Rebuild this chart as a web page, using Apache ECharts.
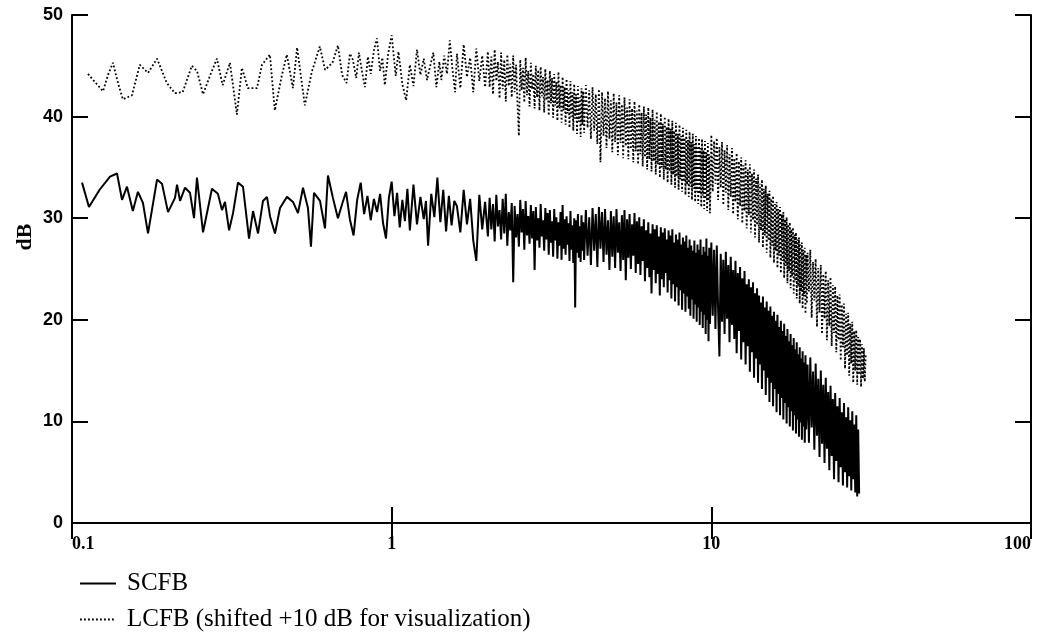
<!DOCTYPE html>
<html>
<head>
<meta charset="utf-8">
<script src="https://cdn.jsdelivr.net/npm/echarts@6/dist/echarts.min.js"></script>
<style>html,body{margin:0;padding:0;background:#fff;}#chart{width:1040px;height:640px;}</style>
</head>
<body>
<div id="chart"></div>
<script>
// ---- data ----
const seriesNames = ['SCFB', 'LCFB (shifted +10 dB for visualization)'];
const yTicks = [0, 10, 20, 30, 40, 50];
const xTicks = [0.1, 1, 10, 100];

// low-frequency part of SCFB (individual wiggles)
const scfbLowFreq = [0.1075,0.113,0.122,0.1315,0.1383,0.1434,0.1486,0.155,0.1608,0.1667,0.1729,0.1845,0.1912,0.1997,0.21,0.2131,0.2178,0.2257,0.234,0.2408,0.246,0.257,0.274,0.286,0.2946,0.301,0.31,0.319,0.3305,0.3427,0.3579,0.3684,0.3819,0.3958,0.4074,0.4163,0.4315,0.4474,0.4704,0.4913,0.5093,0.528,0.5472,0.5592,0.5715,0.5968,0.6186,0.632,0.655,0.679,
0.70,0.72,0.74,0.76,0.78,0.80,0.82,0.84,0.86,0.88,0.90,0.92,0.94,0.96,0.98,1.00,1.02,1.04,1.06,1.08,1.10,1.12,1.14,1.17,1.20,1.23,1.26,1.28,1.30,1.33,1.36,1.39,1.42,1.45,1.48,1.51,1.54,1.57];
const scfbLowDb = [33.5,31.1,32.8,34.1,34.4,31.8,33.1,30.7,32.6,31.5,28.5,33.8,33.4,30.6,32.0,33.3,31.7,33.0,32.5,30.0,34.0,28.6,32.9,32.4,30.8,31.6,28.8,30.5,33.5,33.1,28.0,30.7,28.5,31.7,32.1,30.2,28.5,31.0,32.1,31.6,30.5,33.0,31.0,27.2,32.5,31.7,29.0,34.2,32.0,30.0,
31.4,32.6,29.9,28.3,31.8,33.5,30.4,32.2,29.8,31.9,30.6,32.4,29.5,28.0,32.0,33.6,30.2,32.5,29.1,31.8,29.7,32.9,28.8,33.3,29.4,32.1,29.9,31.7,27.3,32.4,30.1,34.0,29.6,32.8,28.7,32.2,29.3,31.7];

// low-frequency part of LCFB
const lcfbLowFreq = [0.1122,0.125,0.1296,0.1343,0.1393,0.1443,0.154,0.163,0.1729,0.1845,0.198,0.21,0.222,0.237,0.246,0.257,0.27,0.284,0.296,0.312,0.328,0.34,0.355,0.379,0.393,0.416,0.431,0.453,0.47,0.491,0.506,0.535,0.5625,0.596,0.619,0.653,
0.679,0.70,0.723,0.74,0.756,0.775,0.79,0.808,0.825,0.843,0.86,0.88,0.899,0.92,0.935,0.952,0.975,1.0,1.03,1.05,1.08,1.11,1.14,1.17,1.20,1.23,1.26,1.29,1.32,1.35,1.38,1.41,1.43,1.46,1.49,1.52,1.55,1.58];
const lcfbLowDb = [44.2,42.5,44.1,45.3,43.3,41.7,42.1,45.1,44.3,45.7,43.3,42.3,42.4,45.0,44.5,42.2,44.0,45.7,43.1,45.3,40.2,44.8,42.8,42.8,45.1,46.1,40.6,44.0,46.1,42.8,46.8,41.1,44.4,46.9,44.6,45.3,
47.0,44.1,43.3,46.2,45.6,43.8,46.3,44.4,42.9,45.9,44.2,46.5,47.7,44.5,45.8,43.1,46.2,48.0,44.0,46.4,43.2,41.6,45.1,43.0,46.6,44.1,45.7,43.6,45.0,46.3,42.9,45.4,43.6,46.0,44.2,47.5,44.6,42.4];

// dense part (shared frequency samples)
const hiFreq = [
1.60,1.64,1.68,1.72,1.76,1.80,1.84,1.88,1.92,1.96,
2.000,2.025,2.050,2.075,2.100,2.125,2.150,2.175,2.200,2.225,2.250,2.275,2.300,2.325,2.350,2.375,2.400,2.425,2.450,2.475,
2.500,2.525,2.550,2.575,2.600,2.625,2.650,2.675,2.700,2.725,2.750,2.775,2.800,2.825,2.850,2.875,2.900,2.925,2.950,2.975,
3.000,3.025,3.050,3.075,3.100,3.125,3.150,3.175,3.200,3.225,3.250,3.275,3.300,3.325,3.350,3.375,3.400,3.425,3.450,3.475,
3.500,3.525,3.550,3.575,3.600,3.625,3.650,3.675,3.700,3.725,3.750,3.775,3.800,3.825,3.850,3.875,3.900,3.925,3.950,3.975,
4.00,4.05,4.10,4.15,4.20,4.25,4.30,4.35,4.40,4.45,4.50,4.55,4.60,4.65,4.70,4.75,4.80,4.85,4.90,4.95,
5.00,5.05,5.10,5.15,5.20,5.25,5.30,5.35,5.40,5.45,5.50,5.55,5.60,5.65,5.70,5.75,5.80,5.85,5.90,5.95,
6.00,6.05,6.10,6.15,6.20,6.25,6.30,6.35,6.40,6.45,6.50,6.55,6.60,6.65,6.70,6.75,6.80,6.85,6.90,6.95,
7.00,7.05,7.10,7.15,7.20,7.25,7.30,7.35,7.40,7.45,7.50,7.55,7.60,7.65,7.70,7.75,7.80,7.85,7.90,7.95,
8.00,8.05,8.10,8.15,8.20,8.25,8.30,8.35,8.40,8.45,8.50,8.55,8.60,8.65,8.70,8.75,8.80,8.85,8.90,8.95,
9.00,9.05,9.10,9.15,9.20,9.25,9.30,9.35,9.40,9.45,9.50,9.55,9.60,9.65,9.70,9.75,9.80,9.85,9.90,9.95,
10.0,10.1,10.2,10.3,10.4,10.5,10.6,10.7,10.8,10.9,11.0,11.1,11.2,11.3,11.4,11.5,11.6,11.7,11.8,11.9,
12.0,12.1,12.2,12.3,12.4,12.5,12.6,12.7,12.8,12.9,13.0,13.1,13.2,13.3,13.4,13.5,13.6,13.7,13.8,13.9,
14.0,14.1,14.2,14.3,14.4,14.5,14.6,14.7,14.8,14.9,15.0,15.1,15.2,15.3,15.4,15.5,15.6,15.7,15.8,15.9,
16.0,16.1,16.2,16.3,16.4,16.5,16.6,16.7,16.8,16.9,17.0,17.1,17.2,17.3,17.4,17.5,17.6,17.7,17.8,17.9,
18.0,18.1,18.2,18.3,18.4,18.5,18.6,18.7,18.8,18.9,19.0,19.1,19.2,19.3,19.4,19.5,19.6,19.7,19.8,19.9,
20.0,20.2,20.4,20.6,20.8,21.0,21.2,21.4,21.6,21.8,
22.0,22.2,22.4,22.6,22.8,23.0,23.2,23.4,23.6,23.8,24.0,24.2,24.4,24.6,24.8,25.0,25.2,25.4,25.6,25.8,
26.0,26.2,26.4,26.6,26.8,27.0,27.2,27.4,27.6,27.8,28.0,28.2,28.4,28.6,28.8,29.0,29.2,29.4,29.6,29.8,
30.0,30.2,30.4];

const scfbHiDb = [
31.2,28.6,32.8,29.4,31.9,27.8,25.8,32.3,28.9,31.6,
28.2,32.0,28.9,31.4,27.7,32.3,29.2,30.8,27.9,31.9,28.5,32.4,27.3,30.6,28.8,31.5,23.7,31.2,28.1,30.4,
27.2,31.8,28.6,30.9,26.9,31.7,28.3,30.2,27.5,31.3,28.0,30.7,24.9,31.1,27.8,30.0,27.1,31.4,28.2,29.8,
26.8,31.0,27.9,30.5,26.4,30.8,27.6,29.7,26.2,30.9,27.8,30.1,26.0,29.6,27.3,30.6,25.9,31.3,27.0,29.9,
26.4,30.2,27.4,29.5,25.8,30.7,26.9,29.3,25.6,30.0,21.2,29.8,26.6,30.4,26.1,29.2,25.7,30.3,26.8,29.6,
25.9,30.8,26.3,30.1,25.4,31.0,26.8,30.4,25.2,31.1,27.0,30.6,25.7,30.9,26.4,29.8,24.9,30.7,26.2,30.2,
25.1,30.9,26.6,29.6,24.8,30.3,25.9,30.8,23.9,29.9,26.1,30.4,25.0,29.4,26.3,30.5,24.6,29.7,25.5,30.1,
24.4,29.2,25.8,29.9,23.8,28.8,25.1,29.6,24.2,28.5,22.6,29.4,24.9,28.9,23.6,29.3,24.5,28.2,22.4,29.1,
24.0,28.6,23.2,29.0,24.6,27.9,22.7,28.8,23.9,28.3,22.1,28.9,23.5,27.6,21.8,28.4,23.2,27.9,21.4,28.6,
22.9,27.4,21.0,28.1,22.6,27.7,20.8,28.3,22.3,27.1,21.1,27.9,20.4,27.3,22.0,26.8,20.1,27.8,21.5,26.6,
19.8,27.4,21.2,26.9,19.5,27.9,20.8,26.4,19.2,27.2,20.5,26.7,18.6,28.0,20.0,26.3,17.9,27.1,19.6,22.5,
27.6,20.4,26.9,19.1,27.3,21.0,16.4,26.5,19.8,25.9,18.6,26.7,20.1,25.4,17.8,26.2,19.5,24.9,18.1,25.8,
16.7,24.6,18.9,25.2,16.1,24.1,17.8,24.8,15.6,23.5,17.4,24.0,14.9,23.2,16.8,23.7,14.3,22.6,16.2,23.1,
13.8,22.4,15.6,21.7,13.2,22.3,15.0,21.2,12.6,21.8,14.3,20.9,11.9,21.3,13.8,20.4,11.5,20.8,13.2,19.9,
10.9,20.5,12.7,19.3,10.6,19.9,12.3,18.9,10.2,19.6,11.8,18.4,9.8,19.1,11.4,17.9,9.5,18.6,11.0,17.5,
9.1,18.2,10.6,17.1,8.8,17.8,10.2,16.6,8.5,17.3,9.9,16.2,8.2,16.9,9.5,15.8,7.9,16.5,9.2,11.5,
15.6,7.9,16.3,9.4,14.9,7.2,15.7,8.6,14.2,6.5,
15.0,7.8,13.6,5.9,14.3,7.3,12.9,5.2,13.5,6.6,12.2,4.3,12.8,6.1,11.5,4.0,12.3,5.5,10.9,3.7,
11.8,5.0,10.4,3.5,11.4,4.6,10.1,3.2,11.0,4.3,9.7,3.0,10.6,2.6,9.2,2.9];

const lcfbHiDb = [
46.2,42.8,47.1,43.9,45.8,42.4,46.7,43.5,46.0,42.9,
46.4,42.9,45.9,42.2,46.6,43.5,45.4,41.8,46.3,42.7,45.6,41.5,46.1,43.0,45.2,41.9,46.0,42.4,45.1,41.3,
38.1,45.6,42.6,44.8,41.4,45.8,42.1,44.5,41.0,45.3,42.7,44.2,40.8,45.0,41.9,44.6,40.6,44.9,42.0,43.9,
40.4,44.7,41.6,43.6,40.1,44.5,41.3,43.8,39.9,44.2,41.1,43.4,39.6,44.4,40.8,43.1,39.4,43.9,40.6,42.9,
39.2,43.7,40.3,42.6,38.9,43.5,40.0,42.4,38.6,43.2,39.8,42.2,38.3,43.0,39.5,41.9,38.0,42.8,39.2,42.5,
38.4,43.1,38.9,42.6,37.8,42.9,38.6,42.2,37.3,42.7,35.5,42.4,38.1,41.8,36.9,42.5,37.8,41.6,36.5,42.3,
37.5,41.4,36.2,42.1,37.4,41.2,35.9,41.9,37.1,40.9,35.8,41.7,36.8,40.8,35.5,41.5,36.6,40.6,35.3,41.2,
36.3,40.4,35.1,41.0,36.0,40.2,34.8,40.9,35.8,39.9,34.6,40.7,35.6,39.7,34.3,40.5,35.3,39.5,34.0,40.3,
35.0,39.3,33.8,40.0,34.8,39.0,33.5,39.8,34.6,38.8,33.3,39.6,34.3,38.6,33.0,39.4,34.1,38.3,32.8,39.2,
33.8,38.1,32.6,38.9,33.6,37.9,32.3,38.7,33.3,37.7,32.1,38.5,33.1,37.5,31.8,38.3,32.9,37.3,31.6,38.1,
32.6,37.1,31.4,37.9,32.4,36.9,31.1,37.8,32.2,36.7,30.9,37.6,31.9,36.5,30.7,37.4,31.7,36.3,30.5,33.5,
38.2,32.6,37.6,33.4,37.9,31.8,37.0,33.0,37.5,31.3,36.7,32.5,37.2,30.8,36.3,32.1,36.9,30.4,35.9,31.6,
36.4,29.9,35.6,31.2,36.0,29.5,35.2,30.7,35.7,29.0,34.8,30.3,35.3,28.6,34.4,29.8,34.8,28.1,33.9,29.3,
34.3,27.6,33.4,28.8,33.8,27.1,32.9,28.3,33.2,26.6,32.4,27.8,32.7,26.1,31.9,27.3,32.2,25.6,31.4,26.8,
31.6,25.1,30.9,26.3,31.1,24.6,30.4,25.8,30.6,24.1,29.9,25.3,30.1,23.6,29.4,24.8,29.6,23.1,28.9,24.3,
29.1,22.6,28.4,23.8,28.6,22.1,27.9,23.3,28.1,21.6,27.4,22.8,27.6,21.1,26.9,22.3,27.1,20.6,26.4,21.6,
26.6,22.8,26.9,20.2,25.7,21.9,26.0,19.3,25.1,20.7,
25.4,18.6,24.5,20.1,24.8,18.0,23.9,19.4,24.2,17.4,23.4,18.7,23.3,16.8,22.4,18.0,22.5,16.0,21.5,17.3,
21.6,15.2,20.6,16.5,20.7,14.5,19.6,15.7,19.8,13.8,18.9,15.0,19.0,13.6,18.3,14.6,18.1,13.4,17.6,14.2,
17.2,13.9,16.5];

// ---- build series data ----
function pairs(fs, vs) { return vs.map((v, i) => [fs[i], v]); }
const scfbData = pairs(scfbLowFreq, scfbLowDb).concat(pairs(hiFreq, scfbHiDb));
const lcfbData = pairs(lcfbLowFreq, lcfbLowDb).concat(pairs(hiFreq, lcfbHiDb));

const chart = echarts.init(document.getElementById('chart'), null, { renderer: 'canvas' });
const black = '#000';
const axisLine = { show: true, lineStyle: { color: black, width: 2 } };
const tickIn = { show: true, inside: true, length: 16, lineStyle: { color: black, width: 2 } };

chart.setOption({
  animation: false,
  backgroundColor: '#fff',
  grid: { left: 72, right: 9, top: 15, bottom: 117, containLabel: false },
  legend: {
    orient: 'vertical', left: 74, top: 566, itemWidth: 36, itemHeight: 12, itemGap: 11,
    itemStyle: { opacity: 0 },
    textStyle: { fontFamily: 'Liberation Serif', fontSize: 25, color: black, padding: [0, 0, 0, 6] },
    data: seriesNames
  },
  xAxis: [
    {
      type: 'log', logBase: 10, min: xTicks[0], max: xTicks[xTicks.length - 1],
      axisLine: axisLine, axisTick: tickIn, splitLine: { show: false }, minorTick: { show: false },
      axisLabel: {
        color: black, fontFamily: 'Liberation Serif', fontWeight: 'bold', fontSize: 18, margin: 12,
        alignMinLabel: 'left', alignMaxLabel: 'right',
        formatter: v => String(+v.toPrecision(3))
      }
    },
    {
      type: 'log', logBase: 10, min: xTicks[0], max: xTicks[xTicks.length - 1], position: 'top',
      axisLine: axisLine, axisTick: tickIn, axisLabel: { show: false }, splitLine: { show: false }
    }
  ],
  yAxis: [
    {
      type: 'value', min: yTicks[0], max: yTicks[yTicks.length - 1], interval: 10,
      axisLine: axisLine, axisTick: tickIn, splitLine: { show: false },
      axisLabel: { color: black, fontFamily: 'Liberation Sans', fontWeight: 'bold', fontSize: 18, margin: 9 }
    },
    {
      type: 'value', min: yTicks[0], max: yTicks[yTicks.length - 1], interval: 10, position: 'right',
      axisLine: axisLine, axisTick: tickIn, axisLabel: { show: false }, splitLine: { show: false }
    }
  ],
  graphic: [
    {
      type: 'text', x: 25, y: 237, rotation: Math.PI / 2,
      style: { text: 'dB', fontFamily: 'Liberation Serif', fontWeight: 'bold', fontSize: 22, fill: black, align: 'center', verticalAlign: 'middle' }
    }
  ],
  series: [
    {
      name: seriesNames[0], type: 'line', data: scfbData, symbol: 'none', showSymbol: false,
      lineStyle: { color: black, width: 2 }, itemStyle: { color: black }
    },
    {
      name: seriesNames[1], type: 'line', data: lcfbData, symbol: 'none', showSymbol: false,
      lineStyle: { color: black, width: 1.8, type: [1.8, 2.2] }, itemStyle: { color: black }
    }
  ]
});
</script>
</body>
</html>
